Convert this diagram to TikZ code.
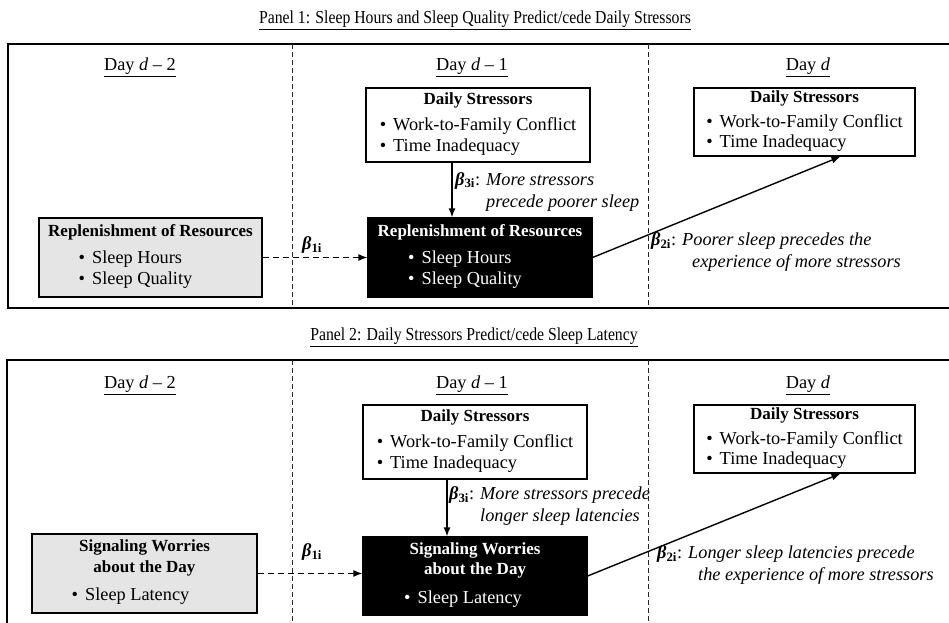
\documentclass[tikz,border=0pt]{standalone}
\usepackage{fontspec}
\setmainfont{Liberation Serif}
\usetikzlibrary{arrows.meta}
\newcommand{\bsym}[1]{\textbf{\textit{β}}\textsubscript{\textbf{#1}}}
\newcommand{\itm}[1]{\textbullet\hspace{7pt}#1}
\newcommand{\bt}[1]{{\fontsize{17}{20}\selectfont\bfseries #1}}
\begin{document}
\begin{tikzpicture}[x=1pt,y=-1pt,
  font=\fontsize{18.3}{20.5}\selectfont,
  frame/.style={line width=1.6pt},
  divider/.style={line width=0.9pt, dash pattern=on 5pt off 3pt, black!85},
  wbox/.style={draw, line width=1.2pt, inner sep=0pt, align=center, fill=white},
  gbox/.style={draw, line width=1.2pt, inner sep=0pt, align=center, fill=black!10},
  kbox/.style={draw, line width=1.2pt, inner sep=0pt, align=center, fill=black, text=white},
  arr/.style={line width=1.4pt, -{Latex[length=9pt,width=7pt]}},
  darr/.style={arr, dash pattern=on 6pt off 4pt},
  lbl/.style={anchor=west, align=left, inner sep=0pt, font=\fontsize{18.3}{22}\selectfont}
]
\clip (0,0) rectangle (949,622);

% ---------------- Panel 1 ----------------
\node (t1) at (475,20) {\scalebox{0.86}[1]{\underline{Panel 1: Sleep Hours and Sleep Quality Predict/cede Daily Stressors}}};
\draw[frame] (8,44) rectangle (970,308);
\draw[divider] (292,44) -- (292,308);
\draw[divider] (648,44) -- (648,308);
\node (d1a) at (140,67) {\underline{Day \textit{d} – 2}};
\node (d1b) at (472,67) {\underline{Day \textit{d} – 1}};
\node (d1c) at (808,67) {\underline{Day \textit{d}}};

\node[wbox, minimum width=224pt, minimum height=74pt] (ds1) at (478,125)
  {\bt{Daily Stressors}\\[7pt]\begin{tabular}{@{}l@{}}\itm{Work-to-Family Conflict}\\\itm{Time Inadequacy}\end{tabular}};
\node[wbox, minimum width=221pt, minimum height=68pt] (dd1) at (804.5,122)
  {\bt{Daily Stressors}\\[6pt]\begin{tabular}{@{}l@{}}\itm{Work-to-Family Conflict}\\\itm{Time Inadequacy}\end{tabular}};
\node[gbox, minimum width=223pt, minimum height=79pt] (g1) at (150.5,257.5)
  {\bt{Replenishment of Resources}\\[8pt]\begin{tabular}{@{}l@{\hspace{30pt}}}\itm{Sleep Hours}\\\itm{Sleep Quality}\end{tabular}};
\node[kbox, minimum width=224pt, minimum height=79pt] (k1) at (480,257.5)
  {\bt{Replenishment of Resources}\\[8pt]\begin{tabular}{@{}l@{\hspace{30pt}}}\itm{Sleep Hours}\\\itm{Sleep Quality}\end{tabular}};

\draw[darr] (g1.east) -- (k1.west);
\draw[arr] ([xshift=-26pt]ds1.south) -- ([xshift=-26pt]ds1.south |- k1.north);
\draw[arr] (k1.east) -- ([xshift=36pt]dd1.south);

\node[lbl] (b11) at (302,245) {\bsym{1i}};
\node[lbl] (b13) at (455,191.5) {\bsym{3i}: \textit{More stressors}\\\hphantom{\bsym{3i}: }\textit{precede poorer sleep}};
\node[lbl] (b12) at (651,252) {\bsym{2i}: \textit{Poorer sleep precedes the}\\\hphantom{\bsym{2i}: }\hspace{10pt}\textit{experience of more stressors}};

% ---------------- Panel 2 ----------------
\node (t2) at (474,337) {\scalebox{0.86}[1]{\underline{Panel 2: Daily Stressors Predict/cede Sleep Latency}}};
\draw[frame] (7,360) rectangle (970,640);
\draw[divider] (292,360) -- (292,640);
\draw[divider] (648,360) -- (648,640);
\node (d2a) at (140,385) {\underline{Day \textit{d} – 2}};
\node (d2b) at (472,385) {\underline{Day \textit{d} – 1}};
\node (d2c) at (808,385) {\underline{Day \textit{d}}};

\node[wbox, minimum width=224pt, minimum height=74pt] (ds2) at (475,442)
  {\bt{Daily Stressors}\\[7pt]\begin{tabular}{@{}l@{}}\itm{Work-to-Family Conflict}\\\itm{Time Inadequacy}\end{tabular}};
\node[wbox, minimum width=221pt, minimum height=68pt] (dd2) at (804.5,439)
  {\bt{Daily Stressors}\\[6pt]\begin{tabular}{@{}l@{}}\itm{Work-to-Family Conflict}\\\itm{Time Inadequacy}\end{tabular}};
\node[gbox, minimum width=225pt, minimum height=79pt] (g2) at (144.5,573.5)
  {\bt{Signaling Worries}\\\bt{about the Day}\\[8pt]\begin{tabular}{@{}l@{\hspace{28pt}}}\itm{Sleep Latency}\end{tabular}};
\node[kbox, minimum width=224pt, minimum height=78pt] (k2) at (475,576)
  {\bt{Signaling Worries}\\\bt{about the Day}\\[8pt]\begin{tabular}{@{}l@{\hspace{24pt}}}\itm{Sleep Latency}\end{tabular}};

\draw[darr] (g2.east) -- (g2.east -| k2.west);
\draw[arr] ([xshift=-28pt]ds2.south) -- ([xshift=-28pt]ds2.south |- k2.north);
\draw[arr] (k2.east) -- ([xshift=36pt]dd2.south);

\node[lbl] (b21) at (302,552) {\bsym{1i}};
\node[lbl] (b23) at (449,506) {\bsym{3i}: \textit{More stressors precede}\\\hphantom{\bsym{3i}: }\textit{longer sleep latencies}};
\node[lbl] (b22) at (657,565) {\bsym{2i}: \textit{Longer sleep latencies precede}\\\hphantom{\bsym{2i}: }\hspace{10pt}\textit{the experience of more stressors}};
\end{tikzpicture}
\end{document}
